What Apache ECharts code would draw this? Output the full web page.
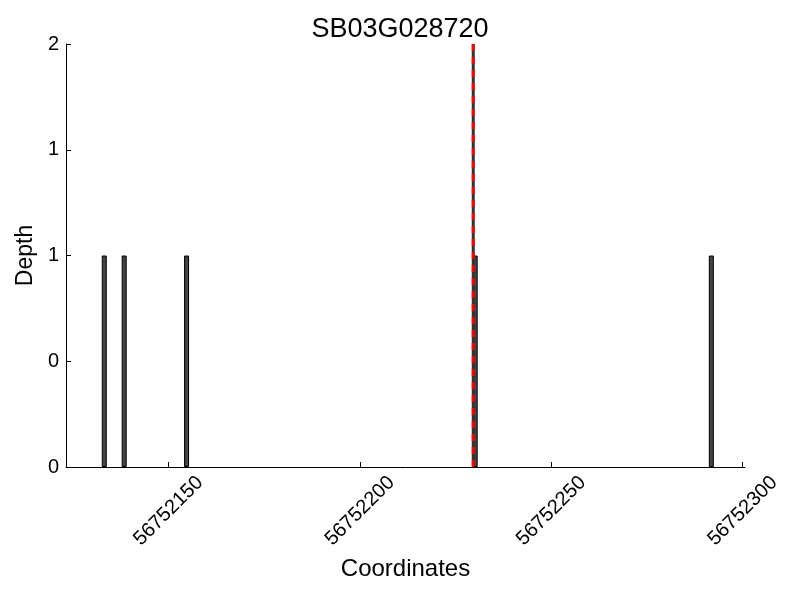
<!DOCTYPE html>
<html>
<head>
<meta charset="utf-8">
<script src="https://cdn.jsdelivr.net/npm/echarts@6/dist/echarts.min.js"></script>
<style>html,body{margin:0;padding:0;background:#fff}#c{width:800px;height:600px}</style>
</head>
<body>
<div id="c"></div>
<script>
const titleText = 'SB03G028720';
const positions = [56752133.2, 56752138.4, 56752154.7, 56752230.1, 56752291.8];
const depths = [1, 1, 1, 1, 1];
const markerPos = 56752229.6;
const xTicks = [56752150, 56752200, 56752250, 56752300];
const yTickValues = [0, 0.5, 1, 1.5, 2];
const yTickLabels = ['0', '0', '1', '1', '2'];
const xMin = 56752123.2, xMax = 56752300.6;

const chart = echarts.init(document.getElementById('c'), null, {renderer: 'canvas'});
const font = 'Liberation Sans, Arial, sans-serif';
chart.setOption({
  animation: false,
  backgroundColor: '#fff',
  title: {text: titleText, left: 'center', top: 11,
    textStyle: {fontFamily: font, fontSize: 27, fontWeight: 'normal', color: '#000'}},
  grid: {left: 66, right: 55, top: 44, bottom: 133},
  xAxis: {
    type: 'value', min: xMin, max: xMax,
    name: 'Coordinates', nameLocation: 'middle', nameGap: 90,
    nameTextStyle: {fontFamily: font, fontSize: 24, color: '#000'},
    axisLine: {show: true, lineStyle: {color: '#000', width: 1}},
    axisTick: {show: true, inside: true, length: 5, customValues: xTicks, lineStyle: {color: '#000'}},
    axisLabel: {customValues: xTicks, rotate: 45, align: 'center', verticalAlign: 'middle', margin: 44,
      fontFamily: font, fontSize: 20, color: '#000', formatter: v => String(v)},
    splitLine: {show: false}
  },
  yAxis: {
    type: 'value', min: 0, max: 2, interval: 0.5,
    name: 'Depth', nameLocation: 'middle', nameGap: 28, nameRotate: 90,
    nameTextStyle: {fontFamily: font, fontSize: 23, color: '#000'},
    axisLine: {show: true, lineStyle: {color: '#000', width: 1}},
    axisTick: {show: true, inside: true, length: 5, lineStyle: {color: '#000'}},
    axisLabel: {fontFamily: font, fontSize: 20, color: '#000', margin: 7,
      formatter: v => yTickLabels[yTickValues.indexOf(v)]},
    splitLine: {show: false}
  },
  series: [
    {
      type: 'bar', barWidth: 5,
      data: positions.map((p, i) => [p, depths[i]]),
      itemStyle: {color: '#444', borderColor: '#000', borderWidth: 1}
    },
    {
      type: 'line', symbol: 'none', z: 5,
      data: [[markerPos, 0], [markerPos, 2]],
      lineStyle: {color: '#333', width: 3, type: 'solid'}
    },
    {
      type: 'line', symbol: 'none', z: 6,
      data: [[markerPos, 0], [markerPos, 2]],
      lineStyle: {color: '#ff0000', width: 3, type: [7, 6]}
    }
  ]
});
</script>
</body>
</html>
